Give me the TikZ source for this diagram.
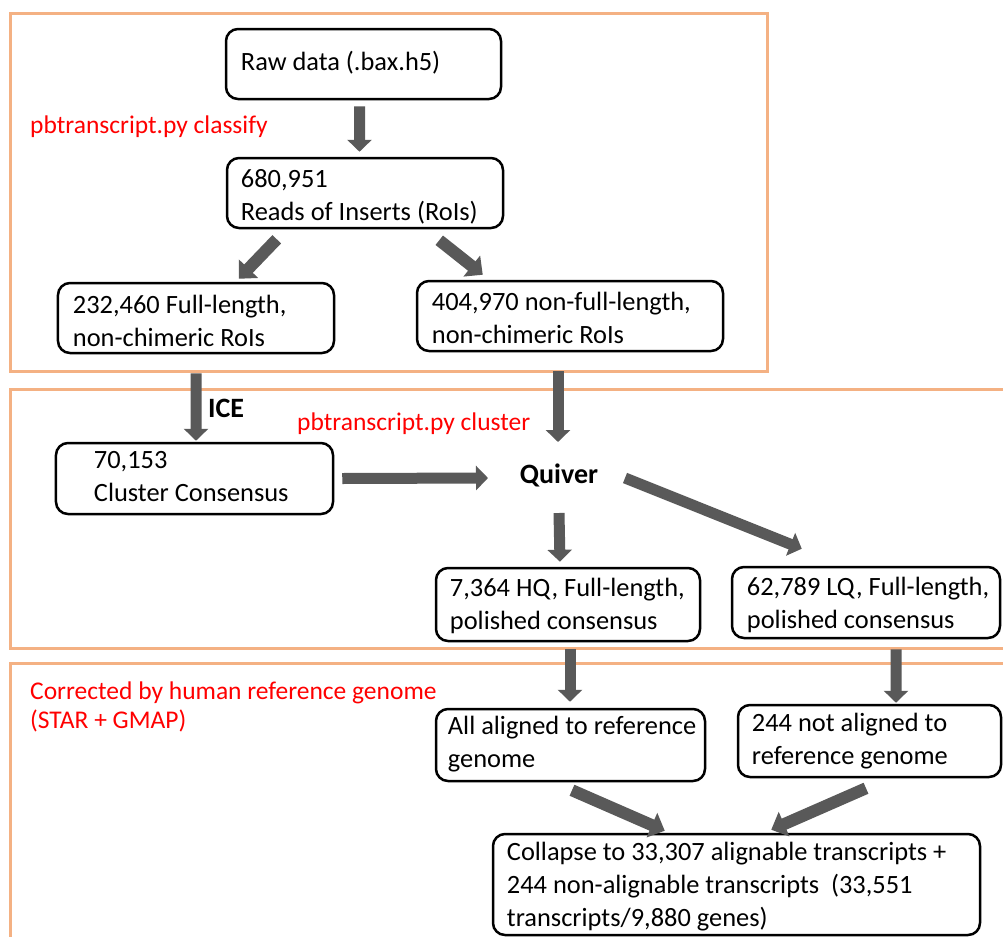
\documentclass[tikz,border=0pt]{standalone}
\usepackage{fontspec}
\setmainfont{Carlito}
\usetikzlibrary{arrows.meta}
\definecolor{panelc}{HTML}{F4B183}
\definecolor{arrc}{HTML}{595959}
\definecolor{redc}{HTML}{FF0000}
\begin{document}
\begin{tikzpicture}[x=1bp,y=-1bp,
  panel/.style={draw=panelc, line width=3bp},
  box/.style={draw=black, line width=2.5bp, rounded corners=12bp, inner sep=0pt},
  txt/.style={anchor=base west, inner sep=0pt, align=left, font=\fontsize{26.4bp}{33bp}\selectfont},
  redtxt/.style={anchor=base west, inner sep=0pt, align=left, text=redc, font=\fontsize{25.5bp}{29bp}\selectfont},
  boldtxt/.style={inner sep=0pt, font=\bfseries\fontsize{28bp}{33bp}\selectfont},
  bigarrow/.style={draw=arrc, line width=11bp, -{Triangle[width=24bp,length=12bp]}},
  diagarrow/.style={draw=arrc, line width=12bp, -{Triangle[width=26bp,length=14bp]}}
]
\useasboundingbox (0,0) rectangle (1003,937);
\clip (0,0) rectangle (1003,937);
\fill[white] (0,0) rectangle (1003,937);

% panels
\draw[panel] (10,13.5) rectangle (767,371);
\draw[panel] (10,389) rectangle (1015,648);
\draw[panel] (10,663) rectangle (1015,950);

% boxes
\node[box, minimum width=275bp, minimum height=70bp] (raw) at (363.5,64) {};
\node[box, minimum width=276bp, minimum height=70bp] (roi) at (365,193) {};
\node[box, minimum width=276bp, minimum height=70bp] (fl) at (196,318) {};
\node[box, minimum width=306bp, minimum height=70bp] (nfl) at (570,316) {};
\node[box, minimum width=277bp, minimum height=71bp] (cc) at (194.5,478.5) {};
\node[box, minimum width=264bp, minimum height=73bp] (hq) at (568,604.5) {};
\node[box, minimum width=268bp, minimum height=71bp] (lq) at (866,602.5) {};
\node[box, minimum width=269bp, minimum height=72bp] (al) at (570.5,745) {};
\node[box, minimum width=263bp, minimum height=72bp] (nal) at (869.5,741) {};
\node[box, minimum width=487bp, minimum height=101bp] (col) at (736.5,884.5) {};

% box texts (base anchor = baseline of the last line)
\node[txt] (rawt) at ([shift={(16,43)}]raw.north west) {Raw data (.bax.h5)};
\node[txt] (roit) at ([shift={(15,64)}]roi.north west) {680,951\\Reads of Inserts (RoIs)};
\node[txt] (flt) at ([shift={(16,65)}]fl.north west) {232,460 Full-length,\\non-chimeric RoIs};
\node[txt] (nflt) at ([shift={(16,64)}]nfl.north west) {404,970 non-full-length,\\non-chimeric RoIs};
\node[txt] (cct) at ([shift={(39,60)}]cc.north west) {70,153\\Cluster Consensus};
\node[txt] (hqt) at ([shift={(15,63)}]hq.north west) {7,364 HQ, Full-length,\\polished consensus};
\node[txt] (lqt) at ([shift={(16,63)}]lq.north west) {62,789 LQ, Full-length,\\polished consensus};
\node[txt] (alt) at ([shift={(13,60)}]al.north west) {All aligned to reference\\genome};
\node[txt] (nalt) at ([shift={(15,61)}]nal.north west) {244 not aligned to\\reference genome};
\node[txt] (colt) at ([shift={(15,94)}]col.north west) {Collapse to 33,307 alignable transcripts +\\244 non-alignable transcripts~ (33,551\\transcripts/9,880 genes)};

% labels
\node[redtxt] (cls) at (30,133) {pbtranscript.py classify};
\node[redtxt] (clu) at (297,430) {pbtranscript.py cluster};
\node[redtxt] (cor) at (30,728) {Corrected by human reference genome\\(STAR + GMAP)};
\node[boldtxt, anchor=base west] (ice) at (208,417) {ICE};
\node[boldtxt] (quiver) at (559,475) {Quiver};

% arrows
\draw[bigarrow] ([shift={(-4,6)}]raw.south) -- ([shift={(-5.5,-5)}]roi.north);
\draw[diagarrow] ([shift={(51,10)}]roi.south west) -- ([shift={(182,-3)}]fl.north west);
\draw[diagarrow] ([shift={(-65,11)}]roi.south east) -- ([shift={(67,-5)}]nfl.north west);
\draw[bigarrow] ([shift={(0,19)}]fl.south) -- ([shift={(1.5,-1)}]cc.north);
\draw[bigarrow] ([shift={(-12,19)}]nfl.south) -- ([shift={(-1,-33)}]quiver.center);
\draw[bigarrow] ([shift={(8,0)}]cc.east) -- ([shift={(-71,3)}]quiver.center);
\draw[bigarrow] ([shift={(0,38)}]quiver.center) -- ([shift={(-8,-5)}]hq.north);
\draw[bigarrow] ([shift={(66,3)}]quiver.center) -- ([shift={(71,-17)}]lq.north west);
\draw[bigarrow] ([shift={(2,7)}]hq.south) -- ([shift={(-0.5,-6)}]al.north);
\draw[bigarrow] ([shift={(30,10)}]lq.south) -- ([shift={(26.5,-1)}]nal.north);
\draw[diagarrow] ([shift={(1.5,8)}]al.south) -- ([shift={(173,-2)}]col.north west);
\draw[diagarrow] ([shift={(-3.5,10)}]nal.south) -- ([shift={(-210,-3)}]col.north east);
\end{tikzpicture}
\end{document}
